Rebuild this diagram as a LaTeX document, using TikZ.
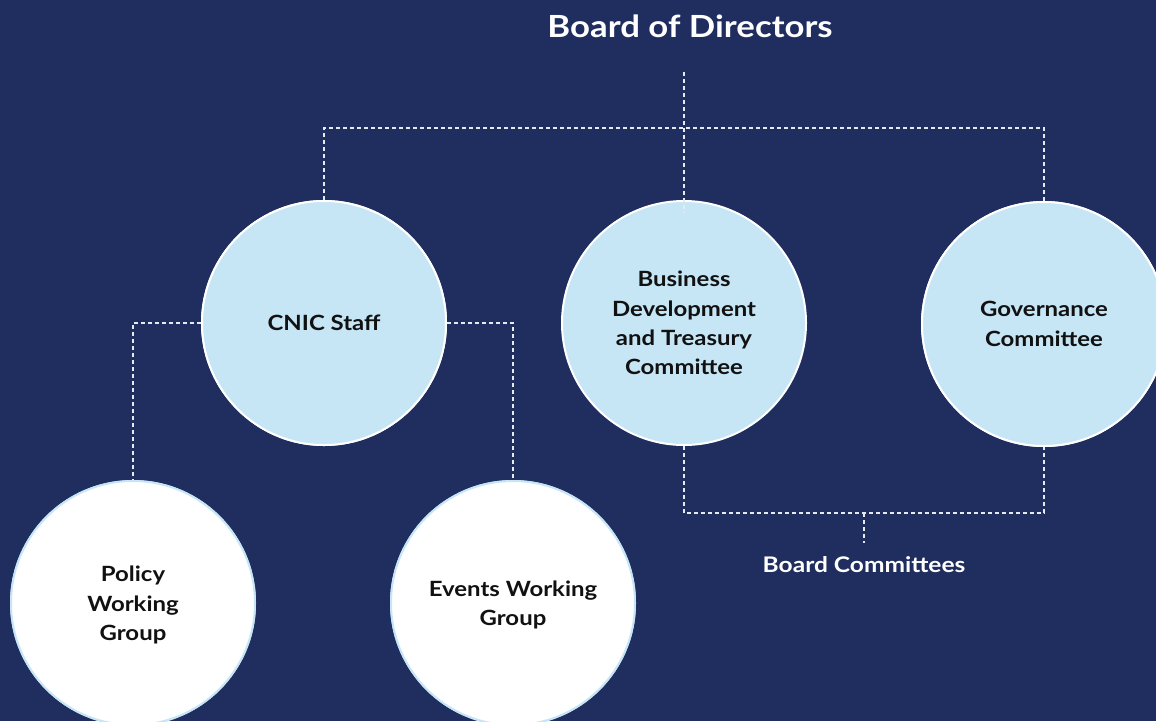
\documentclass[tikz,border=0pt]{standalone}
\usepackage{fontspec}
\setmainfont[FakeStretch=1.14]{Lato}
\usetikzlibrary{calc}
\definecolor{navy}{HTML}{1F2D5F}
\definecolor{lightblue}{HTML}{C6E5F5}
\definecolor{ink}{HTML}{111111}
\definecolor{dash}{HTML}{E6EAF2}
\tikzset{
  bluecirc/.style={circle, minimum size=244pt, inner sep=0pt, fill=lightblue, draw=white, line width=2pt,
    text=ink, align=center, font=\fontsize{21}{29.3}\selectfont\bfseries},
  whitecirc/.style={bluecirc, fill=white, draw=lightblue},
  conn/.style={draw=dash, line width=1.2pt, dash pattern=on 4pt off 3pt},
  lbl/.style={text=white, font=\bfseries}
}
\begin{document}
\begin{tikzpicture}[x=1pt,y=-1pt]
\fill[navy] (0,0) rectangle (1156,721);
\useasboundingbox (0,0) rectangle (1156,721);
% nodes
\node[lbl, font=\fontsize{30.5}{36}\selectfont\bfseries] (title) at (690,26) {Board of Directors};
\node[bluecirc] (cnic) at (324,323) {CNIC Staff};
\node[bluecirc] (bdt) at (684,323) {Business\\Development\\and Treasury\\Committee};
\node[bluecirc] (gov) at (1044,324) {Governance\\Committee};
\node[whitecirc] (policy) at (133,603) {};
\node[whitecirc] (events) at (513,603) {};
\node[lbl, font=\fontsize{21.5}{25}\selectfont\bfseries] (bc) at (864,565) {Board Committees};
\coordinate (bodtop) at (684,72);
\coordinate (hub) at (684,128);
\coordinate (bcjoin) at (864,513);
\coordinate (bctick) at (864,543);
% connectors
\draw[conn] (cnic.north) -- (cnic.north |- hub) -- (gov.north |- hub) -- (gov.north);
\draw[conn] (cnic.west) -| (policy.north);
\draw[conn] (cnic.east) -| (events.north);
\draw[conn] (bdt.south) -- (bdt.south |- bcjoin) -- (gov.south |- bcjoin) -- (gov.south);
\draw[conn] (bcjoin) -- (bctick);
% circles over the line ends
\node[bluecirc] at (cnic) {CNIC Staff};
\node[bluecirc] at (gov) {Governance\\Committee};
\node[whitecirc] at (policy) {};
\node[whitecirc] at (events) {};
\node[align=center, text=ink, font=\fontsize{21}{29.3}\selectfont\bfseries] (policytxt) at ($(policy)+(0,2)$) {Policy\\Working\\Group};
\node[align=center, text=ink, font=\fontsize{21}{29.3}\selectfont\bfseries] (eventstxt) at ($(events)+(0,2)$) {Events Working\\Group};
\draw[conn] (bodtop) -- ($(bdt.north)+(0,13)$);
\end{tikzpicture}
\end{document}
